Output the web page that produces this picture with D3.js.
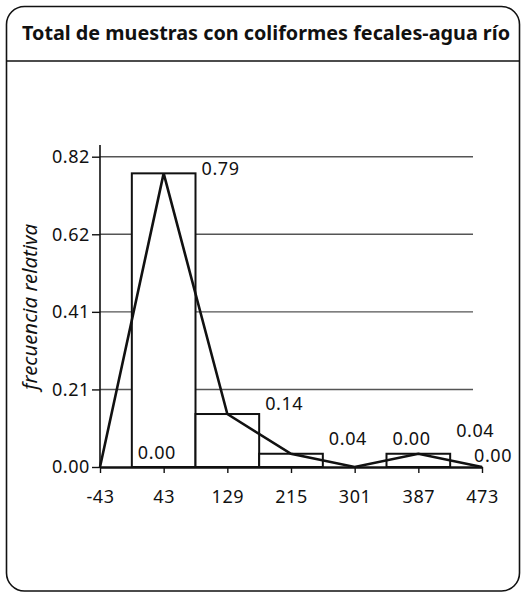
<!DOCTYPE html>
<html>
<head>
<meta charset="utf-8">
<script src="https://cdn.jsdelivr.net/npm/d3@7"></script>
<style>
  body { margin: 0; background: #fff; }
  svg { display: block; }
  text { font-family: "Noto Sans", sans-serif; fill: #111; }
</style>
</head>
<body>
<svg width="524" height="593"></svg>
<script>
// Data
const title = "Total de muestras con coliformes fecales-agua río";
const yLabel = "frecuencia relativa";
const classMarks = [-43, 43, 129, 215, 301, 387, 473];     // x ticks / polygon points
const barMarks = [43, 129, 215, 301, 387];                 // bar centres
const barFreq = [0.776, 0.14, 0.035, 0, 0.035];
const polyFreq = [0, 0.776, 0.14, 0.035, 0, 0.035, 0];
const pointLabels = ["0.00", "0.79", "0.14", "0.04", "0.00", "0.04", "0.00"];
const yTicks = [0, 0.205, 0.41, 0.615, 0.82];
const yTickLabels = ["0.00", "0.21", "0.41", "0.62", "0.82"];

const binHalf = 43;
// vertical lift of each value label above its point (layout only)
const labelLift = [8, -2, 4, 9, 22, 17, 5];

const svg = d3.select("svg"),
  width = +svg.attr("width"),
  height = +svg.attr("height");

// Frame and header
svg.append("rect")
  .attr("x", 6.5).attr("y", 6.5)
  .attr("width", 513).attr("height", 584.5)
  .attr("rx", 18)
  .attr("fill", "none")
  .attr("stroke", "#111")
  .attr("stroke-width", 1.6);

svg.append("line")
  .attr("x1", 6.5).attr("x2", 519.5)
  .attr("y1", 61).attr("y2", 61)
  .attr("stroke", "#111")
  .attr("stroke-width", 1.6);

svg.append("text")
  .attr("x", 22).attr("y", 40)
  .attr("font-size", 20)
  .attr("font-weight", "bold")
  .attr("textLength", 488)
  .attr("lengthAdjust", "spacingAndGlyphs")
  .text(title);

// Scales
const x = d3.scaleLinear()
  .domain([classMarks[0], classMarks[classMarks.length - 1]])
  .range([100, 482]);

const y = d3.scaleLinear()
  .domain([0, 0.82])
  .range([467, 156.7]);

// Gridlines
svg.append("g")
  .selectAll("line")
  .data(yTicks.slice(1))
  .join("line")
  .attr("x1", x(classMarks[0]))
  .attr("x2", 473)
  .attr("y1", d => y(d))
  .attr("y2", d => y(d))
  .attr("stroke", "#555")
  .attr("stroke-width", 1.4);

// Bars
svg.append("g")
  .selectAll("rect")
  .data(barMarks)
  .join("rect")
  .attr("x", d => x(d - binHalf))
  .attr("width", d => x(d + binHalf) - x(d - binHalf))
  .attr("y", (d, i) => y(barFreq[i]))
  .attr("height", (d, i) => y(0) - y(barFreq[i]))
  .attr("fill", "#fff")
  .attr("stroke", "#111")
  .attr("stroke-width", 2);

// Y axis
const yAxis = svg.append("g")
  .attr("transform", `translate(${x(classMarks[0])},0)`)
  .call(d3.axisLeft(y)
    .tickValues(yTicks)
    .tickFormat((d, i) => yTickLabels[i])
    .tickSize(8)
    .tickPadding(2));
yAxis.select(".domain").remove();
yAxis.selectAll(".tick line").attr("stroke", "#111").attr("stroke-width", 1.4);
yAxis.selectAll(".tick text")
  .attr("font-size", 18)
  .attr("letter-spacing", 0.6)
  .attr("font-family", "'Noto Sans', sans-serif")
  .attr("fill", "#111");

svg.append("line")
  .attr("x1", x(classMarks[0])).attr("x2", x(classMarks[0]))
  .attr("y1", y(0)).attr("y2", 145)
  .attr("stroke", "#111")
  .attr("stroke-width", 1.6);

// X axis
const xAxis = svg.append("g")
  .attr("transform", `translate(0,${y(0)})`)
  .call(d3.axisBottom(x)
    .tickValues(classMarks)
    .tickFormat(d => String(d))
    .tickSize(6)
    .tickPadding(17)
    .tickSizeOuter(0));
xAxis.select(".domain").attr("stroke", "#111").attr("stroke-width", 2.4);
xAxis.selectAll(".tick line").attr("stroke", "#111").attr("stroke-width", 1.4);
xAxis.selectAll(".tick text")
  .attr("font-size", 18)
  .attr("letter-spacing", 0.6)
  .attr("font-family", "'Noto Sans', sans-serif")
  .attr("fill", "#111");

// Frequency polygon
const line = d3.line()
  .x(d => x(d[0]))
  .y(d => y(d[1]));

svg.append("path")
  .datum(classMarks.map((m, i) => [m, polyFreq[i]]))
  .attr("d", line)
  .attr("fill", "none")
  .attr("stroke", "#111")
  .attr("stroke-width", 2.6)
  .attr("stroke-linejoin", "miter");

// Value labels
svg.append("g")
  .selectAll("text")
  .data(classMarks)
  .join("text")
  .attr("x", (d, i) => Math.min(x(d + binHalf) + 6, 474))
  .attr("y", (d, i) => y(polyFreq[i]) - labelLift[i])
  .attr("font-size", 18)
  .attr("letter-spacing", 0.6)
  .text((d, i) => pointLabels[i]);

// Y label
svg.append("text")
  .attr("transform", "translate(37,307) rotate(-90)")
  .attr("text-anchor", "middle")
  .attr("font-size", 19)
  .attr("font-style", "italic")
  .attr("textLength", 166)
  .attr("lengthAdjust", "spacingAndGlyphs")
  .text(yLabel);
</script>
</body>
</html>
